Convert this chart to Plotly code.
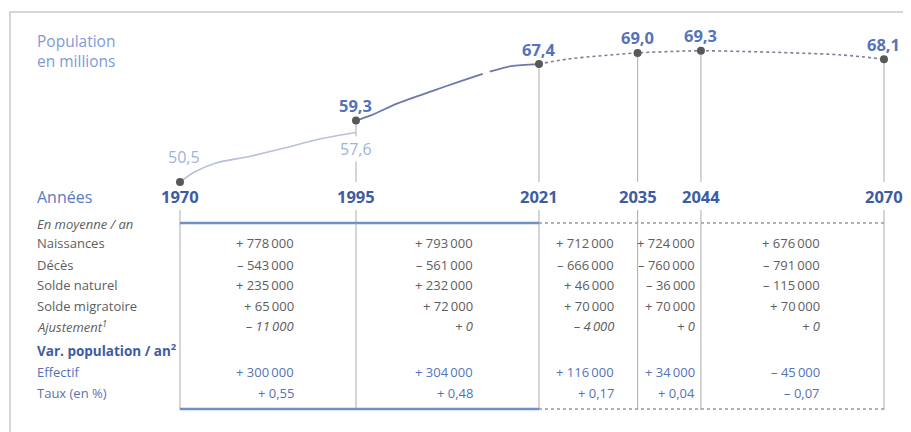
import plotly.graph_objects as go

# ---------------- data ----------------
hist1_years = [1970, 1972, 1975, 1980, 1985, 1990, 1995]
hist1_vals = [50.5, 51.9, 53.2, 54.2, 55.4, 56.7, 57.6]

hist2a_years = [1995, 1997, 2001, 2006, 2010, 2013]
hist2a_vals = [59.3, 60.0, 61.8, 63.6, 65.0, 66.0]
hist2b_years = [2014, 2017, 2021]
hist2b_vals = [66.3, 67.1, 67.4]

proj_years = [2021, 2025, 2030, 2035, 2040, 2044, 2050, 2057, 2064, 2070]
proj_vals = [67.4, 68.1, 68.6, 69.0, 69.2, 69.3, 69.2, 69.0, 68.7, 68.1]

key_years = [1970, 1995, 2021, 2035, 2044, 2070]
key_vals = [50.5, 59.3, 67.4, 69.0, 69.3, 68.1]
break_year = 1995
break_val = 57.6

row_labels = ["Naissances", "Décès", "Solde naturel", "Solde migratoire",
              "Ajustement<sup>1</sup>"]
naissances = [778000, 793000, 712000, 724000, 676000]
deces = [-543000, -561000, -666000, -760000, -791000]
solde_naturel = [235000, 232000, 46000, -36000, -115000]
solde_migratoire = [65000, 72000, 70000, 70000, 70000]
ajustement = [-11000, 0, -4000, 0, 0]
effectif = [300000, 304000, 116000, 34000, -45000]
taux = [0.55, 0.48, 0.17, 0.04, -0.07]

# ---------------- geometry helpers ----------------
OFF = 8                      # page body margin
W, H = 911 - OFF, 432 - OFF
X_RANGE = [1945.57, 2073.84]
Y_RANGE = [14.68, 75.43]


def py(px):
    return 1 - (px - OFF) / H


def px_x(px):
    return (px - OFF) / W


def val_to_paper(v):
    return (v - Y_RANGE[0]) / (Y_RANGE[1] - Y_RANGE[0])


def fmt_int(n):
    sign = "+" if n >= 0 else "–"
    s = f"{abs(n):,}".replace(",", "\u2009")
    return f"{sign} {s}"


def fmt_pct(v):
    sign = "+" if v >= 0 else "–"
    return f"{sign} {abs(v):.2f}".replace(".", ",")


def fmt_pop(v):
    return f"{v:.1f}".replace(".", ",")


BLUE_DARK = "#3d5ca3"
BLUE_MID = "#5573b8"
BLUE_LIGHT = "#9fb2dc"
GRAY_TXT = "#5e5e5e"
FONT = "Open Sans"
TS = 13
BIG = 16.5

fig = go.Figure()

fig.add_trace(go.Scatter(x=hist1_years, y=hist1_vals, mode="lines",
                         line=dict(color="#b9c0d9", width=1.6, shape="spline",
                                   smoothing=0.8),
                         hoverinfo="skip"))
fig.add_trace(go.Scatter(x=hist2a_years, y=hist2a_vals, mode="lines",
                         line=dict(color="#6f78a8", width=1.8, shape="spline",
                                   smoothing=0.8),
                         hoverinfo="skip"))
fig.add_trace(go.Scatter(x=hist2b_years, y=hist2b_vals, mode="lines",
                         line=dict(color="#6f78a8", width=1.8, shape="spline",
                                   smoothing=0.8),
                         hoverinfo="skip"))
fig.add_trace(go.Scatter(x=proj_years, y=proj_vals, mode="lines",
                         line=dict(color="#7a8096", width=1.6, dash="dot",
                                   shape="spline"),
                         hoverinfo="skip"))
fig.add_trace(go.Scatter(x=key_years, y=key_vals, mode="markers",
                         marker=dict(color="#585858", size=8),
                         hoverinfo="skip", cliponaxis=False))

shapes = []
annotations = []

# frame
shapes.append(dict(type="path", xref="paper", yref="paper",
                   path=f"M {px_x(10)} 0 L {px_x(10)} {py(12)} L 1 {py(12)}",
                   line=dict(color="#c9c9c9", width=1.5)))

# connectors from dots down to year labels
for yr, v in zip(key_years, key_vals):
    if yr == 1970:
        continue
    shapes.append(dict(type="line", xref="x", yref="paper",
                       x0=yr, x1=yr, y0=val_to_paper(v), y1=py(182),
                       line=dict(color="#b8b8b8", width=1.2), layer="below"))

# table vertical lines
for yr in key_years:
    shapes.append(dict(type="line", xref="x", yref="paper",
                       x0=yr, x1=yr, y0=py(210), y1=py(410),
                       line=dict(color="#b3b3b3", width=1.1), layer="below"))

# table horizontal borders
for ypx in (223, 409):
    shapes.append(dict(type="line", xref="x", yref="paper",
                       x0=1970, x1=2021, y0=py(ypx), y1=py(ypx),
                       line=dict(color="#7090c8", width=2.5)))
    shapes.append(dict(type="line", xref="x", yref="paper",
                       x0=2021, x1=2070, y0=py(ypx), y1=py(ypx),
                       line=dict(color="#9a9a9a", width=1.3, dash="dot")))

# titles
annotations.append(dict(x=px_x(35), y=py(51), xref="paper", yref="paper",
                        text="Population<br>en millions", showarrow=False,
                        xanchor="left", yanchor="middle", align="left",
                        font=dict(family=FONT, size=15.5, color="#7f9bd3")))
annotations.append(dict(x=px_x(35), y=py(197), xref="paper", yref="paper",
                        text="Années", showarrow=False, xanchor="left",
                        yanchor="middle",
                        font=dict(family=FONT, size=16, color="#5a7bc0")))

# year labels
for yr in key_years:
    annotations.append(dict(x=yr, y=py(197), xref="x", yref="paper",
                            text=f"<b>{yr}</b>", showarrow=False,
                            xanchor="center", yanchor="middle",
                            font=dict(family=FONT, size=BIG, color=BLUE_DARK)))

# value labels
for yr, v in zip(key_years, key_vals):
    if yr == 1970:
        annotations.append(dict(x=yr, y=v, xref="x", yref="y",
                                text=fmt_pop(v), showarrow=False,
                                xshift=4, yshift=25,
                                font=dict(family=FONT, size=16, color=BLUE_LIGHT)))
    else:
        annotations.append(dict(x=yr, y=v, xref="x", yref="y",
                                text=f"<b>{fmt_pop(v)}</b>", showarrow=False,
                                yshift=15,
                                font=dict(family=FONT, size=BIG, color=BLUE_MID)))
annotations.append(dict(x=break_year, y=break_val, xref="x", yref="y",
                        text=fmt_pop(break_val), showarrow=False, yshift=-17,
                        bgcolor="white",
                        font=dict(family=FONT, size=16, color=BLUE_LIGHT)))

# table
col_right_px = [296, 475, 616, 697, 822]
row_px = [243, 265, 285, 306, 326]
rows = [naissances, deces, solde_naturel, solde_migratoire, ajustement]

annotations.append(dict(x=px_x(35), y=py(224), xref="paper", yref="paper",
                        text="<i>En moyenne / an</i>", showarrow=False,
                        xanchor="left", yanchor="middle",
                        font=dict(family=FONT, size=TS, color=GRAY_TXT)))
for lab, ypx, vals in zip(row_labels, row_px, rows):
    italic = lab.startswith("Ajustement")
    t = f"<i>{lab}</i>" if italic else lab
    annotations.append(dict(x=px_x(35), y=py(ypx), xref="paper", yref="paper",
                            text=t, showarrow=False, xanchor="left",
                            yanchor="middle",
                            font=dict(family=FONT, size=TS, color=GRAY_TXT)))
    for cx, v in zip(col_right_px, vals):
        s = fmt_int(v)
        annotations.append(dict(x=px_x(cx), y=py(ypx), xref="paper",
                                yref="paper",
                                text=f"<i>{s}</i>" if italic else s,
                                showarrow=False, xanchor="right",
                                yanchor="middle",
                                font=dict(family=FONT, size=TS,
                                          color=GRAY_TXT)))

annotations.append(dict(x=px_x(35), y=py(350), xref="paper", yref="paper",
                        text="<b>Var. population / an<sup>2</sup></b>",
                        showarrow=False, xanchor="left", yanchor="middle",
                        font=dict(family=FONT, size=13.5, color=BLUE_DARK)))
for lab, ypx, vals, f in (("Effectif", 372, effectif, fmt_int),
                          ("Taux (en %)", 393, taux, fmt_pct)):
    annotations.append(dict(x=px_x(35), y=py(ypx), xref="paper", yref="paper",
                            text=lab, showarrow=False, xanchor="left",
                            yanchor="middle",
                            font=dict(family=FONT, size=TS, color=BLUE_MID)))
    for cx, v in zip(col_right_px, vals):
        annotations.append(dict(x=px_x(cx), y=py(ypx), xref="paper",
                                yref="paper", text=f(v), showarrow=False,
                                xanchor="right", yanchor="middle",
                                font=dict(family=FONT, size=TS,
                                          color=BLUE_MID)))

fig.update_layout(
    width=W, height=H,
    margin=dict(l=0, r=0, t=0, b=0),
    paper_bgcolor="white", plot_bgcolor="white",
    showlegend=False,
    xaxis=dict(range=X_RANGE, visible=False, fixedrange=True),
    yaxis=dict(range=Y_RANGE, visible=False, fixedrange=True),
    shapes=shapes, annotations=annotations,
)

fig.write_html("out.html")
